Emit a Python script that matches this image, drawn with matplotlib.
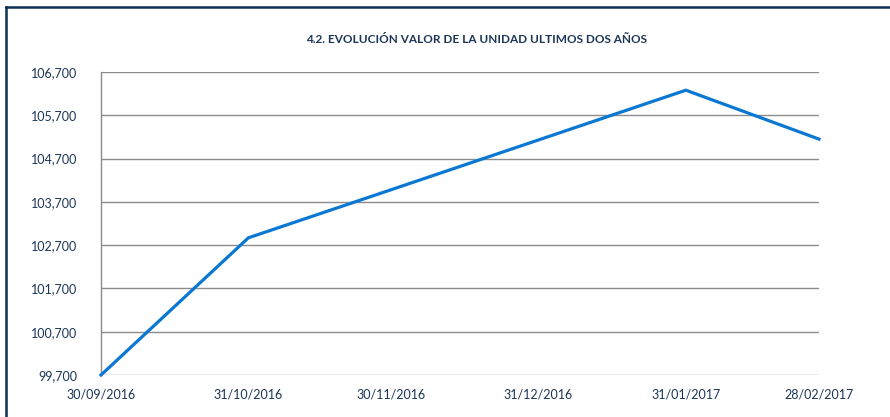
import pandas as pd
import matplotlib
matplotlib.use('Agg')
import matplotlib.pyplot as plt
import matplotlib.dates as mdates
import matplotlib.ticker as mticker
from matplotlib.lines import Line2D

# Data
dates = ['2016-09-30', '2016-10-31', '2016-11-30', '2016-12-31', '2017-01-31', '2017-02-28']
values = [99700, 102870, 103980, 105130, 106280, 105150]
y_ticks = [99700, 100700, 101700, 102700, 103700, 104700, 105700, 106700]
title = '4.2. EVOLUCIÓN VALOR DE LA UNIDAD ULTIMOS DOS AÑOS'

x = pd.to_datetime(dates)

text_col = '#1c3557'
plt.rcParams['font.family'] = ['Lato', 'DejaVu Sans']

fig = plt.figure(figsize=(8.9, 4.17), dpi=100)
ax = fig.add_axes([0.1135, 0.1007, 0.8067, 0.7266])

ax.plot(x, values, color='#0a78d2', lw=2.3, solid_joinstyle='miter', clip_on=False, zorder=3)

ax.set_xlim(x[0], x[-1])
ax.set_ylim(y_ticks[0], y_ticks[-1])
ax.set_yticks(y_ticks)
ax.yaxis.set_major_formatter(mticker.FuncFormatter(lambda v, p: f'{v:,.0f}'))
ax.set_xticks(x)
ax.xaxis.set_major_formatter(mdates.DateFormatter('%d/%m/%Y'))

ax.grid(axis='y', color='#8c8c8c', lw=1)
ax.set_axisbelow(True)
for s in ['top', 'right', 'bottom']:
    ax.spines[s].set_visible(False)
ax.spines['left'].set_color('#8c8c8c')
ax.spines['left'].set_linewidth(1)

ax.tick_params(axis='both', length=0, labelsize=9, colors=text_col)
ax.tick_params(axis='y', pad=17)
ax.tick_params(axis='x', pad=10)

fig.text(0.535, 0.905, title, ha='center', va='center', fontsize=8.5,
         fontweight='bold', color=text_col)

# frame lines at top and left
fig.add_artist(Line2D([5.5 / 890, 1], [1 - 7 / 417, 1 - 7 / 417], color='#0d2f52', lw=1.8))
fig.add_artist(Line2D([5.5 / 890, 5.5 / 890], [0, 1 - 7 / 417], color='#0d2f52', lw=1.8))

plt.savefig('out.png', dpi=100)
plt.close()
